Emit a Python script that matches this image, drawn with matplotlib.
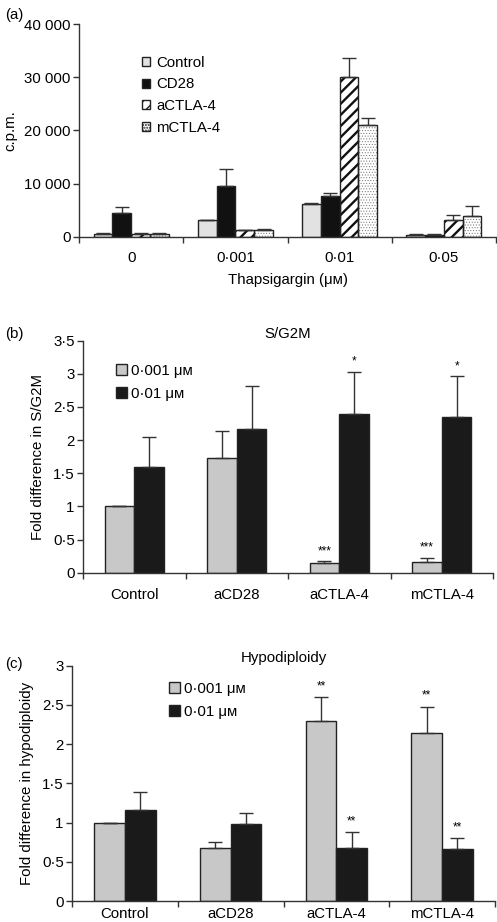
import matplotlib
matplotlib.use("Agg")
import matplotlib.pyplot as plt
import numpy as np
from matplotlib.patches import Patch

plt.rcParams['font.family'] = ['Liberation Sans', 'DejaVu Sans']
FS = 10.8

# ---------------- data (a) ----------------
a_categories = ['0', '0·001', '0·01', '0·05']
a_series = ['Control', 'CD28', 'aCTLA-4', 'mCTLA-4']
a_control = [560, 3130, 6140, 380]
a_control_err = [240, 0, 260, 120]
a_cd28 = [4580, 9590, 7710, 310]
a_cd28_err = [1000, 3140, 630, 190]
a_actla4 = [630, 1250, 29970, 3130]
a_actla4_err = [185, 0, 3570, 1010]
a_mctla4 = [560, 1250, 21000, 3890]
a_mctla4_err = [190, 190, 1260, 1940]
a_yticks = [0, 10000, 20000, 30000, 40000]
a_yticklabels = ['0', '10 000', '20 000', '30 000', '40 000']

# ---------------- data (b) ----------------
bc_categories = ['Control', 'aCD28', 'aCTLA-4', 'mCTLA-4']
bc_series = ['0·001 μᴍ', '0·01 μᴍ']
b_low = [1.00, 1.735, 0.141, 0.161]
b_low_err = [0.0, 0.40, 0.035, 0.065]
b_high = [1.589, 2.172, 2.393, 2.348]
b_high_err = [0.457, 0.643, 0.639, 0.613]
b_low_stars = ['', '', '***', '***']
b_high_stars = ['', '', '*', '*']
b_yticks = [0, 0.5, 1, 1.5, 2, 2.5, 3, 3.5]
b_yticklabels = ['0', '0·5', '1', '1·5', '2', '2·5', '3', '3·5']

# ---------------- data (c) ----------------
c_low = [1.00, 0.68, 2.299, 2.146]
c_low_err = [0.0, 0.072, 0.298, 0.332]
c_high = [1.16, 0.986, 0.68, 0.667]
c_high_err = [0.234, 0.136, 0.195, 0.140]
c_low_stars = ['', '', '**', '**']
c_high_stars = ['', '', '**', '**']
c_yticks = [0, 0.5, 1, 1.5, 2, 2.5, 3]
c_yticklabels = ['0', '0·5', '1', '1·5', '2', '2·5', '3']

W, H = 497, 922
fig = plt.figure(figsize=(W / 100, H / 100), dpi=100)
EC = '#222222'


def make_ax(left, right, top, bottom):
    return fig.add_axes([left / W, 1 - bottom / H, (right - left) / W, (bottom - top) / H])


def style_ax(ax, ncat, cats, yticks, ylabels, pad_x):
    ax.spines['top'].set_visible(False)
    ax.spines['right'].set_visible(False)
    for s in ('left', 'bottom'):
        ax.spines[s].set_linewidth(1.0)
        ax.spines[s].set_color('#333333')
    ax.set_xlim(-0.5, ncat - 0.5)
    ax.set_xticks(np.arange(ncat))
    ax.set_xticklabels(cats, fontsize=FS)
    ax.set_xticks(np.arange(ncat + 1) - 0.5, minor=True)
    ax.tick_params(axis='x', which='major', length=0, pad=pad_x)
    ax.tick_params(axis='x', which='minor', length=4, width=1.0, direction='out',
                   color='#333333')
    ax.set_yticks(yticks)
    ax.set_yticklabels(ylabels, fontsize=FS)
    ax.tick_params(axis='y', length=4, width=1.0, direction='out', pad=2, color='#333333')


def errkw():
    return dict(ecolor='#333333', elinewidth=1.0, capthick=1.0)


def set_hlw(patch, lw):
    if hasattr(patch, 'set_hatch_linewidth'):
        patch.set_hatch_linewidth(lw)


# ================= panel (a) =================
axa = make_ax(79, 496, 24, 237)
x = np.arange(len(a_categories))
bw = 0.18
a_vals = [a_control, a_cd28, a_actla4, a_mctla4]
a_errs = [a_control_err, a_cd28_err, a_actla4_err, a_mctla4_err]
a_colors = ['#e2e2e2', '#111111', 'white', 'white']
a_hatches = [None, None, '///', '......']
a_hlw = [1.0, 1.0, 1.7, 0.4]
a_hcol = [EC, EC, '#111111', '#707070']
handles = []
for i in range(4):
    offs = (i - 1.5) * bw
    errs = np.array(a_errs[i], dtype=float)
    with plt.rc_context({'hatch.linewidth': a_hlw[i], 'hatch.color': a_hcol[i]}):
        # fill + hatch layer (hatch colour comes from edgecolor)
        bars = axa.bar(x + offs, a_vals[i], bw, color=a_colors[i], edgecolor=a_hcol[i],
                       linewidth=0, hatch=a_hatches[i], zorder=2)
        for p in bars:
            set_hlw(p, a_hlw[i])
        # outline + error bar layer
        axa.bar(x + offs, a_vals[i], bw, fill=False, edgecolor=EC, linewidth=1.0,
                zorder=3, yerr=[np.zeros(4), errs], capsize=5, error_kw=errkw())
        hp = Patch(facecolor=a_colors[i], edgecolor=EC, linewidth=1.0,
                   hatch=a_hatches[i], label=a_series[i])
        set_hlw(hp, min(a_hlw[i], 1.0))
        handles.append(hp)
axa.set_ylim(0, 40000)
style_ax(axa, 4, a_categories, a_yticks, a_yticklabels, pad_x=10)
axa.set_ylabel('c.p.m.', fontsize=FS, labelpad=5)
axa.set_xlabel('Thapsigargin (μᴍ)', fontsize=FS, labelpad=6)
axa.legend(handles=handles, loc='upper left', bbox_to_anchor=(142 / W, 1 - 56 / H),
           bbox_transform=fig.transFigure, frameon=False, fontsize=FS,
           handlelength=0.55, handleheight=0.55, handletextpad=0.4, labelspacing=0.5,
           borderpad=0, borderaxespad=0)
fig.text(5 / W, 1 - 15 / H, '(a)', fontsize=FS, va='center', ha='left')


# ================= panels (b) and (c) =================
def two_series(ax, low, low_err, high, high_err, low_stars, high_stars, bw, star_gap):
    xx = np.arange(4)
    ax.bar(xx - bw / 2, low, bw, color='#c8c8c8', edgecolor=EC, linewidth=1.0,
           zorder=2, yerr=[np.zeros(4), low_err], capsize=5, error_kw=errkw())
    ax.bar(xx + bw / 2, high, bw, color='#1a1a1a', edgecolor=EC, linewidth=1.0,
           zorder=2, yerr=[np.zeros(4), high_err], capsize=5, error_kw=errkw())
    for i in range(4):
        if low_stars[i]:
            ax.text(xx[i] - bw / 2, low[i] + low_err[i] + star_gap, low_stars[i],
                    ha='center', va='bottom', fontsize=8.5)
        if high_stars[i]:
            ax.text(xx[i] + bw / 2, high[i] + high_err[i] + star_gap, high_stars[i],
                    ha='center', va='bottom', fontsize=8.5)
    return [Patch(facecolor='#c8c8c8', edgecolor=EC, linewidth=1.0, label=bc_series[0]),
            Patch(facecolor='#1a1a1a', edgecolor=EC, linewidth=1.0, label=bc_series[1])]


axb = make_ax(83, 493, 340.7, 572.7)
hb = two_series(axb, b_low, b_low_err, b_high, b_high_err, b_low_stars, b_high_stars, 0.29, 0.06)
axb.set_ylim(0, 3.5)
style_ax(axb, 4, bc_categories, b_yticks, b_yticklabels, pad_x=11)
axb.set_ylabel('Fold difference in S/G2M', fontsize=FS, labelpad=6)
axb.set_title('S/G2M', fontsize=FS, pad=1)
axb.legend(handles=hb, loc='upper left', bbox_to_anchor=(116 / W, 1 - 364 / H),
           bbox_transform=fig.transFigure, frameon=False, fontsize=FS,
           handlelength=0.75, handleheight=0.75, handletextpad=0.25, labelspacing=0.6,
           borderpad=0, borderaxespad=0)
fig.text(5 / W, 1 - 334 / H, '(b)', fontsize=FS, va='center', ha='left')

axc = make_ax(72, 495, 665.7, 901)
hc = two_series(axc, c_low, c_low_err, c_high, c_high_err, c_low_stars, c_high_stars, 0.29, 0.06)
axc.set_ylim(0, 3)
style_ax(axc, 4, bc_categories, c_yticks, c_yticklabels, pad_x=4)
axc.set_ylabel('Fold difference in hypodiploidy', fontsize=FS, labelpad=6)
axc.set_title('Hypodiploidy', fontsize=FS, pad=3)
axc.legend(handles=hc, loc='upper left', bbox_to_anchor=(169 / W, 1 - 682 / H),
           bbox_transform=fig.transFigure, frameon=False, fontsize=FS,
           handlelength=0.75, handleheight=0.75, handletextpad=0.25, labelspacing=0.6,
           borderpad=0, borderaxespad=0)
fig.text(5 / W, 1 - 664 / H, '(c)', fontsize=FS, va='center', ha='left')

fig.savefig('out.png', dpi=100)
